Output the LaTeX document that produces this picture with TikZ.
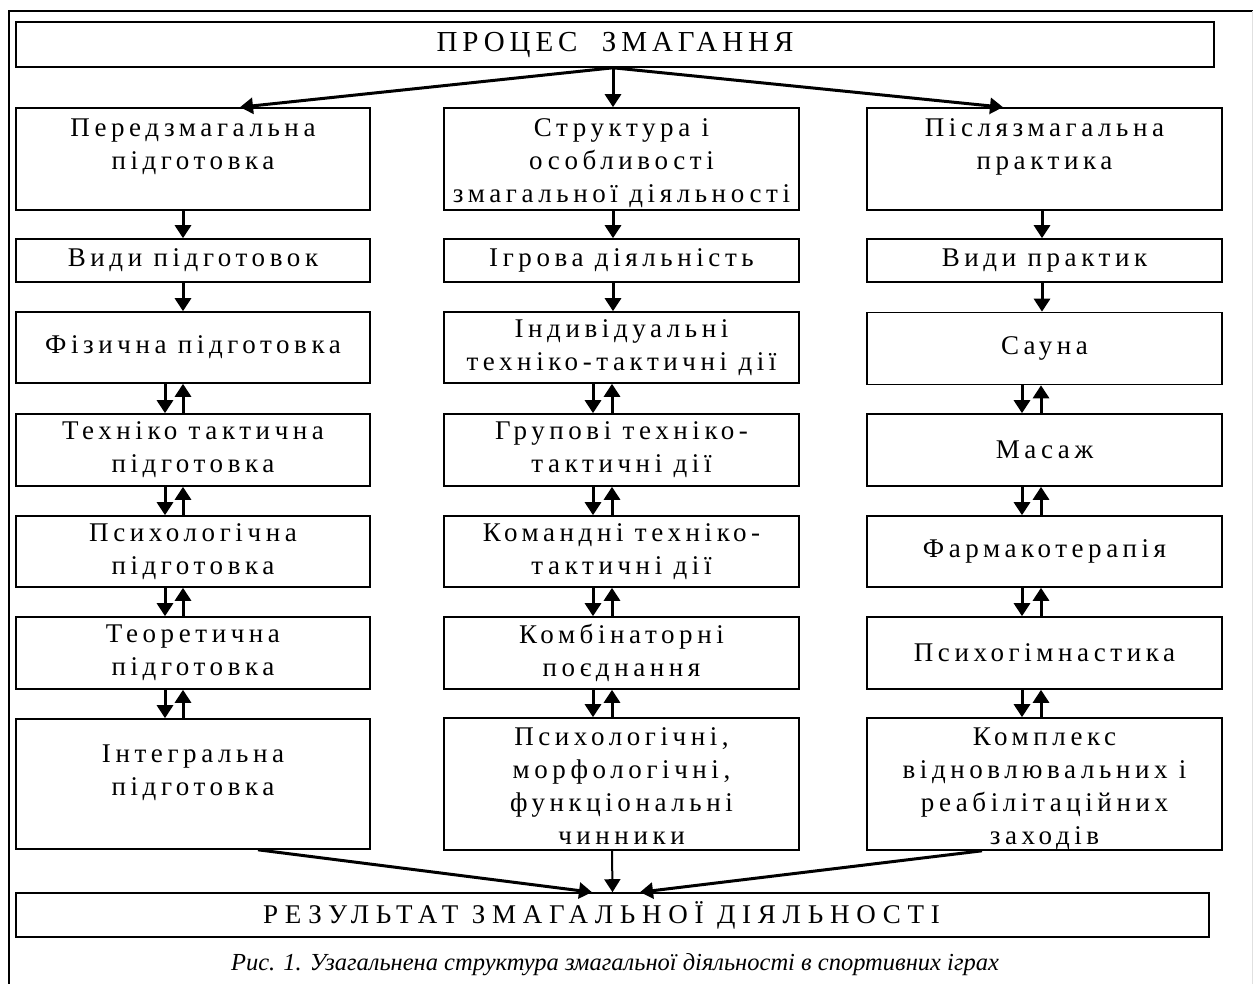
\documentclass[tikz,border=0pt]{standalone}
\usepackage{fontspec}
\setmainfont{Liberation Serif}
\newfontfamily\spc[LetterSpace=17]{Liberation Serif}
\newfontfamily\spcr[LetterSpace=25]{Liberation Serif}
\usetikzlibrary{arrows.meta}
\newcommand\shiftup[2]{\raisebox{#1}[\height][\depth]{\begin{tabular}{@{}c@{}}#2\end{tabular}}}
\begin{document}
\begin{tikzpicture}[x=1pt,y=-1pt,
  box/.style={draw, line width=1.6pt, inner sep=0pt, align=center,
    font=\spc\fontsize{27}{33}\selectfont},
  lc/.style={box, minimum width=354pt},
  mc/.style={box, minimum width=355pt},
  rc/.style={box, minimum width=355pt},
  arr/.style={line width=3pt, -{Triangle[length=13pt,width=16pt]}},
  thinarr/.style={line width=2pt, -{Triangle[length=13pt,width=16pt]}},
  frame/.style={line width=2pt},
]
\useasboundingbox (0,0) rectangle (1253,984);
\draw[frame] (9,995) -- (9,11) -- (1253,11);
\draw[black!12, line width=1pt] (1252,11) -- (1252,995);

% title
\node[box, minimum width=1198pt, minimum height=45pt, font=\spc\fontsize{29}{33}\selectfont] (top) at (615,44.5) {ПРОЦЕС\ \ ЗМАГАННЯ};

% left column
\node[lc, minimum height=102pt] (l1) at (193,159) {\shiftup{13pt}{Передзмагальна\\підготовка}};
\node[lc, minimum height=43pt]  (l2) at (193,260.5) {Види підготовок};
\node[lc, minimum height=71pt]  (l3) at (193,347.5) {Фізична підготовка};
\node[lc, minimum height=72pt]  (l4) at (193,450) {Техніко тактична\\підготовка};
\node[lc, minimum height=71pt]  (l5) at (193,551.5) {Психологічна\\підготовка};
\node[lc, minimum height=72pt]  (l6) at (193,653) {Теоретична\\підготовка};
\node[lc, minimum height=130pt] (l7) at (193,784) {\shiftup{12pt}{Інтегральна\\підготовка}};

% middle column
\node[mc, minimum height=102pt] (m1) at (621.5,159) {\shiftup{-4pt}{Структура і\\особливості\\змагальної діяльності}};
\node[mc, minimum height=43pt]  (m2) at (621.5,260.5) {Ігрова діяльність};
\node[mc, minimum height=71pt]  (m3) at (621.5,347.5) {Індивідуальні\\техніко-тактичні дії};
\node[mc, minimum height=72pt]  (m4) at (621.5,450) {Групові техніко-\\тактичні дії};
\node[mc, minimum height=71pt]  (m5) at (621.5,551.5) {Командні техніко-\\тактичні дії};
\node[mc, minimum height=72pt]  (m6) at (621.5,653) {Комбінаторні\\поєднання};
\node[mc, minimum height=130pt] (m7) at (621.5,784) {\shiftup{-4pt}{Психологічні,\\морфологічні,\\функціональні\\чинники}};

% right column
\node[rc, minimum height=102pt] (r1) at (1044.5,159) {\shiftup{13pt}{Післязмагальна\\практика}};
\node[rc, minimum height=43pt]  (r2) at (1044.5,260.5) {Види практик};
\node[rc, minimum height=72pt]  (r3) at (1044.5,348.5) {Сауна};
\node[rc, minimum height=72pt]  (r4) at (1044.5,450) {Масаж};
\node[rc, minimum height=71pt]  (r5) at (1044.5,551.5) {Фармакотерапія};
\node[rc, minimum height=72pt]  (r6) at (1044.5,653) {Психогімнастика};
\node[rc, minimum height=130pt] (r7) at (1044.5,784) {\shiftup{-4pt}{Комплекс\\відновлювальних і\\реабілітаційних\\заходів}};

% result
\node[box, minimum width=1193pt, minimum height=44pt, font=\spcr\fontsize{27}{33}\selectfont] (res) at (612.5,915) {РЕЗУЛЬТАТ ЗМАГАЛЬНОЇ ДІЯЛЬНОСТІ\hspace*{22pt}};

% caption
\node[font=\itshape\fontsize{24.5}{28}\selectfont, inner sep=0pt] (cap) at (615,965) {Рис. 1. Узагальнена структура змагальної діяльності в спортивних іграх};

% top arrows
\draw[arr] ([xshift=-2pt]top.south) -- ([xshift=47pt]l1.north);
\draw[arr] ([xshift=-2pt]top.south) -- ([xshift=-8.5pt]m1.north);
\draw[arr] ([xshift=-2pt]top.south) -- ([xshift=-41.5pt]r1.north);

% single arrows
\foreach \a/\b in {l1/l2,l2/l3} \draw[arr] ([xshift=-10pt]\a.south) -- ([xshift=-10pt]\b.north);
\foreach \a/\b in {m1/m2,m2/m3} \draw[arr] ([xshift=-8.5pt]\a.south) -- ([xshift=-8.5pt]\b.north);
\foreach \a/\b in {r1/r2,r2/r3} \draw[arr] ([xshift=-2.5pt]\a.south) -- ([xshift=-2.5pt]\b.north);

% double arrows
\foreach \a/\b in {l3/l4,l4/l5,l5/l6,l6/l7} {
  \draw[arr] ([xshift=-28pt]\a.south) -- ([xshift=-28pt]\b.north);
  \draw[arr] ([xshift=-10pt]\b.north) -- ([xshift=-10pt]\a.south);
}
\foreach \a/\b in {m3/m4,m4/m5,m5/m6,m6/m7} {
  \draw[arr] ([xshift=-28.5pt]\a.south) -- ([xshift=-28.5pt]\b.north);
  \draw[arr] ([xshift=-9.5pt]\b.north) -- ([xshift=-9.5pt]\a.south);
}
\foreach \a/\b in {r3/r4,r4/r5,r5/r6,r6/r7} {
  \draw[arr] ([xshift=-22.5pt]\a.south) -- ([xshift=-22.5pt]\b.north);
  \draw[arr] ([xshift=-3.5pt]\b.north) -- ([xshift=-3.5pt]\a.south);
}

% bottom arrows
\draw[arr] ([xshift=65pt]l7.south) -- ([xshift=-20.5pt]res.north);
\draw[thinarr] ([xshift=-9.5pt]m7.south) -- (res.north);
\draw[arr] ([xshift=-62.5pt]r7.south) -- ([xshift=27.5pt]res.north);
\end{tikzpicture}
\end{document}
